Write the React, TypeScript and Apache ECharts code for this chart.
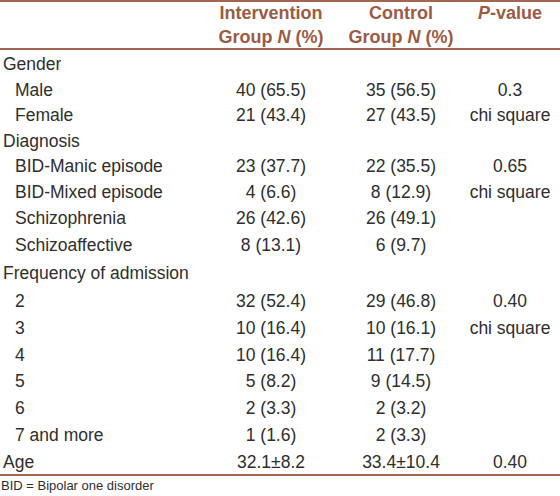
import React, { useEffect, useRef } from "react";
import * as echarts from "echarts";

const rowLabels = [
  "Gender", "Male", "Female", "Diagnosis", "BID-Manic episode", "BID-Mixed episode",
  "Schizophrenia", "Schizoaffective", "Frequency of admission", "2", "3", "4", "5", "6",
  "7 and more", "Age",
];
const rowIndented = [false, true, true, false, true, true, true, true, false, true, true, true, true, true, true, false];
const interventionN: (number | null)[] = [null, 40, 21, null, 23, 4, 26, 8, null, 32, 10, 10, 5, 2, 1, null];
const interventionPct: (number | null)[] = [null, 65.5, 43.4, null, 37.7, 6.6, 42.6, 13.1, null, 52.4, 16.4, 16.4, 8.2, 3.3, 1.6, null];
const controlN: (number | null)[] = [null, 35, 27, null, 22, 8, 26, 6, null, 29, 10, 11, 9, 2, 2, null];
const controlPct: (number | null)[] = [null, 56.5, 43.5, null, 35.5, 12.9, 49.1, 9.7, null, 46.8, 16.1, 17.7, 14.5, 3.2, 3.3, null];
const ageIntervention = "32.1±8.2";
const ageControl = "33.4±10.4";
const pValueTexts = ["", "0.3", "chi square", "", "0.65", "chi square", "", "", "", "0.40", "chi square", "", "", "", "", "0.40"];
const footnote = "BID = Bipolar one disorder";

const HEAD = "#9c5a44";
const LINE = "#a3654f";
const BODY = "#2e2e2e";
const FONT = "'Liberation Sans', Arial, sans-serif";

export default function App() {
  const ref = useRef<HTMLDivElement>(null);
  useEffect(() => {
    if (!ref.current) return;
    const chart = echarts.init(ref.current, null, { renderer: "svg" });
    const colX = { label0: 3, label1: 15, inter: 271, ctrl: 401, p: 510 };
    const rowYs = [64, 89.5, 115, 140.5, 166, 192, 218, 245, 273, 301, 328, 355, 381, 408, 435, 461.5];
    const els: any[] = [];
    const txt = (x: number, y: number, text: string, opts: any = {}) =>
      els.push({
        type: "text",
        x,
        y,
        style: {
          text,
          fill: BODY,
          font: `17.5px ${FONT}`,
          align: "center",
          verticalAlign: "middle",
          ...opts,
        },
      });
    const line = (y: number, w: number) =>
      els.push({ type: "line", shape: { x1: 0, y1: y, x2: 560, y2: y }, style: { stroke: LINE, lineWidth: w } });

    line(1, 2);
    line(49, 2);
    line(475, 2);

    const headRich = {
      b: { fontWeight: "bold", fontSize: 18, fontFamily: FONT, fill: HEAD },
      i: { fontWeight: "bold", fontStyle: "italic", fontSize: 18, fontFamily: FONT, fill: HEAD },
    };
    txt(colX.inter, 13, "{b|Intervention}", { rich: headRich });
    txt(colX.inter, 37, "{b|Group }{i|N}{b| (%)}", { rich: headRich });
    txt(colX.ctrl, 13, "{b|Control}", { rich: headRich });
    txt(colX.ctrl, 37, "{b|Group }{i|N}{b| (%)}", { rich: headRich });
    txt(colX.p, 13, "{i|P}{b|-value}", { rich: headRich });

    rowLabels.forEach((lab, i) => {
      const y = rowYs[i];
      txt(rowIndented[i] ? colX.label1 : colX.label0, y, lab, { align: "left" });
      const iN = interventionN[i];
      const iP = interventionPct[i];
      if (iN !== null && iP !== null) txt(colX.inter, y, `${iN} (${iP.toFixed(1)})`);
      const cN = controlN[i];
      const cP = controlPct[i];
      if (cN !== null && cP !== null) txt(colX.ctrl, y, `${cN} (${cP.toFixed(1)})`);
      if (pValueTexts[i]) txt(colX.p, y, pValueTexts[i]);
    });
    const ageRow = rowLabels.indexOf("Age");
    txt(colX.inter, rowYs[ageRow], ageIntervention);
    txt(colX.ctrl, rowYs[ageRow], ageControl);

    txt(1, 485, footnote, { align: "left", font: `13px ${FONT}` });

    chart.setOption({
      animation: false,
      backgroundColor: "#ffffff",
      graphic: { elements: els },
    });
    return () => chart.dispose();
  }, []);
  return (
    <div
      ref={ref}
      style={{ position: "fixed", left: 0, top: 0, width: 560, height: 496, background: "#fff" }}
    />
  );
}
